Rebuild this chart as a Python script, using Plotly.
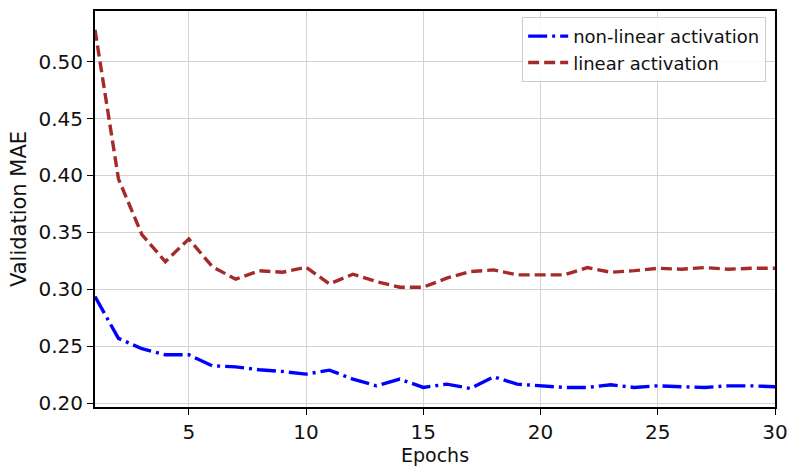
import plotly.graph_objects as go

epochs = list(range(1, 31))
nonlinear_mae = [0.2935, 0.2568, 0.2477, 0.2424, 0.2424, 0.2327, 0.2318, 0.2292, 0.2277, 0.2254,
                 0.2289, 0.2210, 0.2151, 0.2210, 0.2137, 0.2166, 0.2128, 0.2230, 0.2166, 0.2151,
                 0.2137, 0.2137, 0.2160, 0.2137, 0.2151, 0.2143, 0.2137, 0.2151, 0.2151, 0.2143]
linear_mae = [0.5280, 0.3970, 0.3480, 0.3242, 0.3442, 0.3199, 0.3088, 0.3163, 0.3149, 0.3193,
              0.3047, 0.3132, 0.3067, 0.3018, 0.3018, 0.3097, 0.3155, 0.3170, 0.3126, 0.3126,
              0.3126, 0.3190, 0.3149, 0.3163, 0.3184, 0.3176, 0.3190, 0.3176, 0.3184, 0.3184]

x_ticks = [5, 10, 15, 20, 25, 30]
y_ticks = [0.20, 0.25, 0.30, 0.35, 0.40, 0.45, 0.50]

FONT = "DejaVu Sans"
TEXT = "#111111"

fig = go.Figure()
fig.add_trace(go.Scatter(
    x=epochs, y=nonlinear_mae, mode="lines", name="non-linear activation",
    line=dict(color="#0000ff", width=3.4, dash="19px,5px,3px,5px"),
))
fig.add_trace(go.Scatter(
    x=epochs, y=linear_mae, mode="lines", name="linear activation",
    line=dict(color="#a52a2a", width=3.4, dash="11px,5px"),
))

axis_common = dict(
    showgrid=True, gridcolor="#d3d3d3", gridwidth=1,
    showline=True, linecolor="black", linewidth=2, mirror=True,
    ticks="outside", ticklen=6, tickwidth=1, tickcolor="black",
    zeroline=False, automargin=False,
    tickfont=dict(family=FONT, size=20, color=TEXT),
)

fig.update_xaxes(
    range=[1, 30], tickvals=x_ticks,
    title=dict(text="Epochs", font=dict(family=FONT, size=19, color=TEXT), standoff=1),
    **axis_common,
)
fig.update_yaxes(
    range=[0.1965, 0.5445], tickvals=y_ticks, tickformat=".2f",
    title=dict(text="Validation MAE", font=dict(family=FONT, size=21, color=TEXT), standoff=6),
    **axis_common,
)

fig.update_layout(
    width=790, height=466,
    margin=dict(l=95, r=15, t=11, b=59),
    plot_bgcolor="white", paper_bgcolor="white",
    font=dict(family=FONT, color=TEXT),
    legend=dict(
        x=0.987, y=0.985, xanchor="right", yanchor="top",
        bgcolor="rgba(255,255,255,0.85)", bordercolor="#cccccc", borderwidth=1,
        font=dict(family=FONT, size=18, color=TEXT),
        itemwidth=40,
    ),
)

fig.write_html("out.html")
